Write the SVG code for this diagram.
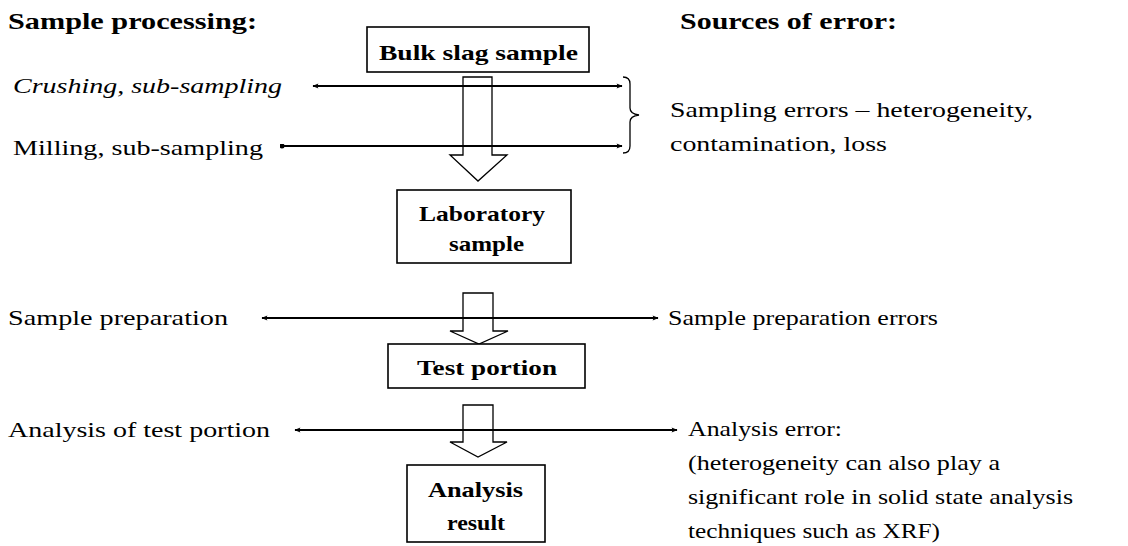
<svg xmlns="http://www.w3.org/2000/svg" width="1128" height="546" viewBox="0 0 1128 546">
<style>
  .t { font-family: "Liberation Serif", "Times New Roman", serif; font-size: 21px; fill: #000; }
  .h { font-weight: bold; font-size: 23px; }
  .bx { font-weight: bold; font-size: 22px; }
  .i { font-style: italic; }
  .box { fill: #fff; stroke: #000; stroke-width: 1.6; }
  .ha { fill: #fff; stroke: #000; stroke-width: 1.3; stroke-linejoin: miter; }
  .ln { stroke: #000; stroke-width: 2; fill: none; }
  .br { stroke: #000; stroke-width: 1.3; fill: none; }
</style>
<defs>
  <marker id="ah" viewBox="0 0 10 10" refX="9" refY="5" markerWidth="9" markerHeight="6" markerUnits="userSpaceOnUse" orient="auto-start-reverse">
    <path d="M0,1 L10,5 L0,9 L2,5 z" fill="#000"/>
  </marker>
  <marker id="dot" viewBox="0 0 10 10" refX="5" refY="5" markerWidth="5" markerHeight="5" markerUnits="userSpaceOnUse">
    <circle cx="5" cy="5" r="5" fill="#000"/>
  </marker>
</defs>

<g id="headings">
  <text class="t h" x="8" y="29" textLength="249" lengthAdjust="spacingAndGlyphs">Sample processing:</text>
  <text class="t h" x="680" y="29" textLength="217" lengthAdjust="spacingAndGlyphs">Sources of error:</text>
</g>

<g id="hollow-arrows">
  <path class="ha" d="M463,77 H492 V155 H507 L478,181 L450,155 H463 Z"/>
  <path class="ha" d="M463,293 H493 V331 H508 L479,344 L450,331 H463 Z"/>
  <path class="ha" d="M463,405 H493 V442 H507 L478,457 L450,442 H463 Z"/>
</g>

<g id="connectors">
  <line class="ln" x1="313" y1="86" x2="622" y2="86" marker-start="url(#ah)" marker-end="url(#ah)"/>
  <line class="ln" x1="282" y1="146" x2="622" y2="146" marker-start="url(#dot)" marker-end="url(#ah)"/>
  <line class="ln" x1="262" y1="318" x2="658" y2="318" marker-start="url(#ah)" marker-end="url(#ah)"/>
  <line class="ln" x1="295" y1="430" x2="677" y2="430" marker-start="url(#ah)" marker-end="url(#ah)"/>
  <path class="br" d="M623,77 Q630,77 630,84 V108 Q630,114 639,115 Q630,116 630,122 V146 Q630,153 623,153"/>
</g>

<g id="node-bulk">
  <rect class="box" x="367" y="27" width="222" height="45"/>
  <text class="t bx" x="379" y="60" textLength="199" lengthAdjust="spacingAndGlyphs">Bulk slag sample</text>
</g>

<g id="node-lab">
  <rect class="box" x="397" y="190" width="174" height="73"/>
  <text class="t bx" x="419" y="221" textLength="126" lengthAdjust="spacingAndGlyphs">Laboratory</text>
  <text class="t bx" x="449" y="251" textLength="75" lengthAdjust="spacingAndGlyphs">sample</text>
</g>

<g id="node-test">
  <rect class="box" x="388" y="344" width="197" height="44"/>
  <text class="t bx" x="417" y="375" textLength="140" lengthAdjust="spacingAndGlyphs">Test portion</text>
</g>

<g id="node-result">
  <rect class="box" x="407" y="465" width="138" height="77"/>
  <text class="t bx" x="428" y="497" textLength="95" lengthAdjust="spacingAndGlyphs">Analysis</text>
  <text class="t bx" x="447" y="530" textLength="58" lengthAdjust="spacingAndGlyphs">result</text>
</g>

<g id="left-labels">
  <text class="t i" x="13" y="93" textLength="269" lengthAdjust="spacingAndGlyphs">Crushing, sub-sampling</text>
  <text class="t" x="13" y="155" textLength="250" lengthAdjust="spacingAndGlyphs">Milling, sub-sampling</text>
  <text class="t" x="8" y="325" textLength="220" lengthAdjust="spacingAndGlyphs">Sample preparation</text>
  <text class="t" x="8" y="437" textLength="262" lengthAdjust="spacingAndGlyphs">Analysis of test portion</text>
</g>

<g id="right-labels">
  <text class="t" x="670" y="117" textLength="363" lengthAdjust="spacingAndGlyphs">Sampling errors – heterogeneity,</text>
  <text class="t" x="670" y="151" textLength="217" lengthAdjust="spacingAndGlyphs">contamination, loss</text>
  <text class="t" x="668" y="325" textLength="270" lengthAdjust="spacingAndGlyphs">Sample preparation errors</text>
  <text class="t" x="688" y="436" textLength="154" lengthAdjust="spacingAndGlyphs">Analysis error:</text>
  <text class="t" x="688" y="470" textLength="312" lengthAdjust="spacingAndGlyphs">(heterogeneity can also play a</text>
  <text class="t" x="688" y="504" textLength="385" lengthAdjust="spacingAndGlyphs">significant role in solid state analysis</text>
  <text class="t" x="688" y="538" textLength="252" lengthAdjust="spacingAndGlyphs">techniques such as XRF)</text>
</g>
</svg>
